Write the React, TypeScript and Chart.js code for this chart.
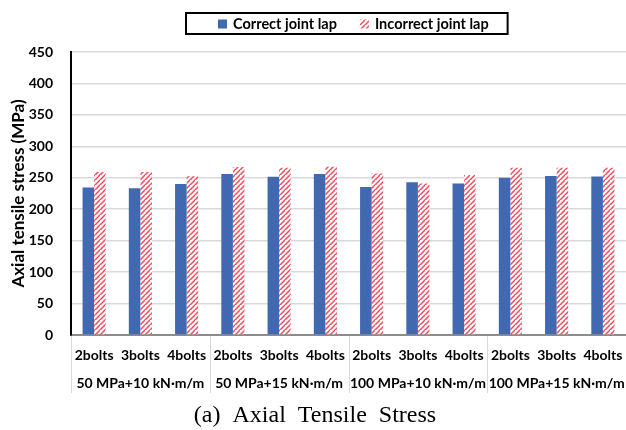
import React, { useEffect, useRef } from "react";
import { Chart, registerables } from "chart.js";

Chart.register(...registerables);

const boltLabels = [
  "2bolts", "3bolts", "4bolts",
  "2bolts", "3bolts", "4bolts",
  "2bolts", "3bolts", "4bolts",
  "2bolts", "3bolts", "4bolts",
];
const groupLabels = [
  "50 MPa+10 kN·m/m",
  "50 MPa+15 kN·m/m",
  "100 MPa+10 kN·m/m",
  "100 MPa+15 kN·m/m",
];
const correctLap = [234.5, 233.5, 240, 256, 251.5, 256, 235.5, 243, 241, 250, 253, 252];
const incorrectLap = [259, 259, 252.5, 267, 266, 267.5, 257, 241, 254.5, 266, 266, 266];
const seriesNames = ["Correct joint lap", "Incorrect joint lap"];
const yMin = 0;
const yMax = 450;
const yStep = 50;
const yTitle = "Axial tensile stress (MPa)";
const caption = "(a)  Axial  Tensile  Stress";

const FONT = "Lato, 'Open Sans', sans-serif";
const BLUE = "#4169B1";
const RED = "#F24A5C";

function makeHatch(): CanvasPattern | string {
  const s = 5;
  const c = document.createElement("canvas");
  c.width = s;
  c.height = s;
  const g = c.getContext("2d");
  if (!g) return RED;
  g.fillStyle = "#ffffff";
  g.fillRect(0, 0, s, s);
  g.strokeStyle = RED;
  g.lineWidth = 1.5;
  g.beginPath();
  g.moveTo(-1, s + 1);
  g.lineTo(s + 1, -1);
  g.moveTo(-1 - s, 1);
  g.lineTo(1, -1);
  g.moveTo(s - 1, s + 1);
  g.lineTo(s + 1, s - 1);
  g.stroke();
  const p = g.createPattern(c, "repeat");
  return p || RED;
}

function noSidePadding(scale: any, h: number) {
  scale.height = h;
  scale.paddingLeft = 0;
  scale.paddingRight = 0;
}

export default function App() {
  const ref = useRef<HTMLCanvasElement | null>(null);

  useEffect(() => {
    if (!ref.current) return;
    const hatch = makeHatch();

    const extras = {
      id: "extras",
      afterDraw(chart: any) {
        const ctx = chart.ctx as CanvasRenderingContext2D;
        const xs = chart.scales.x;
        const area = chart.chartArea;
        // group separators
        const catW = (xs.right - xs.left) / boltLabels.length;
        ctx.save();
        ctx.strokeStyle = "#D9D9D9";
        ctx.lineWidth = 1;
        for (let k = 0; k <= groupLabels.length; k++) {
          const px = Math.round(xs.left + k * 3 * catW) + 0.5;
          ctx.beginPath();
          ctx.moveTo(px, area.bottom + 1);
          ctx.lineTo(px, chart.scales.x2.bottom);
          ctx.stroke();
        }
        // legend
        ctx.font = `bold 14.5px ${FONT}`;
        ctx.textBaseline = "middle";
        ctx.textAlign = "left";
        const w1 = ctx.measureText(seriesNames[0]).width;
        const w2 = ctx.measureText(seriesNames[1]).width;
        const box = 9;
        const gapT = 6;
        const gapI = 23;
        const total = box + gapT + w1 + gapI + box + gapT + w2;
        const startX = Math.round(353 - total / 2);
        const cy = 24;
        ctx.fillStyle = BLUE;
        ctx.fillRect(startX, cy - 4.5, box, box);
        ctx.fillStyle = "#000";
        ctx.fillText(seriesNames[0], startX + box + gapT, cy);
        const x2 = startX + box + gapT + w1 + gapI;
        ctx.fillStyle = hatch as any;
        ctx.fillRect(x2, cy - 4.5, box, box);
        ctx.fillStyle = "#000";
        ctx.fillText(seriesNames[1], x2 + box + gapT, cy);
        const endX = x2 + box + gapT + w2;
        ctx.strokeStyle = "#000";
        ctx.lineWidth = 2;
        ctx.strokeRect(startX - 32, 13, endX - startX + 32 + 19, 21);
        // caption
        ctx.font = `24px 'Liberation Serif', 'Times New Roman', serif`;
        ctx.textAlign = "center";
        ctx.textBaseline = "alphabetic";
        ctx.fillStyle = "#000";
        ctx.fillText(caption, 315, 422);
        ctx.restore();
      },
    };

    const chart = new Chart(ref.current, {
      type: "bar",
      data: {
        labels: boltLabels,
        datasets: [
          {
            label: seriesNames[0],
            data: correctLap,
            backgroundColor: BLUE,
            borderWidth: 0,
            categoryPercentage: 0.5,
            barPercentage: 1.0,
          },
          {
            label: seriesNames[1],
            data: incorrectLap,
            backgroundColor: hatch as any,
            borderWidth: 0,
            categoryPercentage: 0.5,
            barPercentage: 1.0,
          },
        ],
      },
      options: {
        responsive: false,
        animation: false,
        layout: { padding: { top: 52, left: 0, right: -3, bottom: 37 } },
        plugins: {
          legend: { display: false },
          tooltip: { enabled: false },
          title: { display: false },
        },
        scales: {
          x: {
            type: "category",
            position: "bottom",
            offset: true,
            grid: { display: false, drawTicks: false },
            border: { display: true, color: "#8C8C8C", width: 2 },
            ticks: {
              autoSkip: false,
              maxRotation: 0,
              minRotation: 0,
              padding: 12,
              color: "#000",
              font: { family: FONT, size: 14, weight: "bold" },
            },
            afterFit(scale: any) {
              noSidePadding(scale, 28);
            },
          },
          x2: {
            type: "category",
            position: "bottom",
            labels: groupLabels,
            offset: true,
            grid: { display: false, drawTicks: false },
            border: { display: false },
            ticks: {
              autoSkip: false,
              maxRotation: 0,
              minRotation: 0,
              padding: 12,
              color: "#000",
              font: { family: FONT, size: 14, weight: "bold" },
            },
            afterFit(scale: any) {
              noSidePadding(scale, 30);
            },
          },
          y: {
            min: yMin,
            max: yMax,
            grid: { color: "#D9D9D9", lineWidth: 1.5, drawTicks: false },
            border: { display: true, color: "#000", width: 2 },
            ticks: {
              stepSize: yStep,
              padding: 18,
              color: "#000",
              font: { family: FONT, size: 14, weight: "bold" },
            },
            title: {
              display: true,
              text: yTitle,
              color: "#000",
              padding: { top: 8, bottom: 0 },
              font: { family: FONT, size: 17, weight: "bold" },
            },
            afterFit(scale: any) {
              scale.width = 71;
            },
          },
        },
      },
      plugins: [extras],
    });

    return () => chart.destroy();
  }, []);

  return (
    <div style={{ position: "absolute", left: 0, top: 0, width: 626, height: 430, background: "#fff" }}>
      <canvas ref={ref} width={626} height={430} style={{ display: "block" }} />
    </div>
  );
}
